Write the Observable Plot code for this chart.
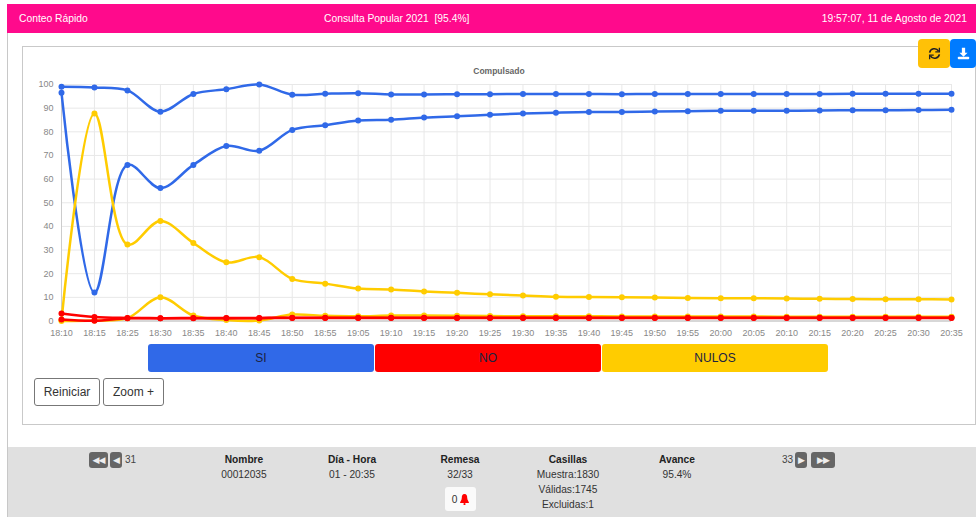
<!DOCTYPE html>
<html><head><meta charset="utf-8">
<script src="https://cdn.jsdelivr.net/npm/d3@7"></script>
<script src="https://cdn.jsdelivr.net/npm/@observablehq/plot@0.6"></script>
<style>
html,body{margin:0;padding:0;background:#fff;overflow:hidden}
#page{position:relative;width:976px;height:517px;font-family:"Liberation Sans",Arial,sans-serif;overflow:hidden}
.abs{position:absolute;box-sizing:border-box}
#head{left:7px;top:4px;width:969px;height:29px;background:#ff0a8c;color:#fff;font-size:10.3px;line-height:30px}
#head span{position:absolute;top:0;white-space:nowrap}
#wall{left:7px;top:33px;width:1px;height:484px;background:#c8c8c8}
#panel{left:22px;top:46px;width:954px;height:379px;border:1px solid #c9c9c9}
#chart{left:0;top:60px}
#ttl{left:22px;width:954px;top:66px;text-align:center;font-size:8.5px;font-weight:bold;color:#666}
.leg{top:344px;height:28px;border-radius:3px;text-align:center;line-height:28px;font-size:12px;color:#1c2340}
.btn{top:378px;height:28px;border:1px solid #777;border-radius:3px;background:#fff;color:#333;font-size:12px;line-height:26px;text-align:center}
.ic{top:39px;height:29px;border-radius:4px;display:flex;align-items:center;justify-content:center}
#foot{left:8px;top:447px;width:968px;height:70px;background:#e0e0e0}
.col{width:100px;text-align:center;font-size:10.2px;color:#333;line-height:15px;top:452px}
.col b{color:#222}
.nb{top:452px;height:16px;background:#666;border-radius:3px;color:#eee;font-size:9px;line-height:16px;text-align:center;letter-spacing:-1px;font-family:"DejaVu Sans",sans-serif}
.n{top:454px;font-size:10px;color:#444}
</style></head><body>
<div id="page">
<div class="abs" id="wall"></div>
<div class="abs" id="head"><span style="left:12px">Conteo Rápido</span><span style="left:317px">Consulta Popular 2021&nbsp; [95.4%]</span><span style="right:9px">19:57:07, 11 de Agosto de 2021</span></div>
<div class="abs" id="panel"></div>
<div class="abs" id="chart"></div>
<div class="abs" id="ttl">Compulsado</div>
<div class="abs leg" style="left:148px;width:226px;background:#3069e8">SI</div>
<div class="abs leg" style="left:375px;width:226px;background:#ff0000">NO</div>
<div class="abs leg" style="left:602px;width:226px;background:#ffcc00">NULOS</div>
<div class="abs btn" style="left:34px;width:66px">Reiniciar</div>
<div class="abs btn" style="left:103px;width:61px">Zoom +</div>
<div class="abs ic" style="left:918px;width:32px;background:#ffc107"><svg width="13" height="13" viewBox="0 0 16 16" fill="none" stroke="#222" stroke-width="2"><path d="M2 7a6 6 0 0 1 11-2"/><path d="M14 9a6 6 0 0 1-11 2"/><path d="M14 1v5h-5M2 15v-5h5" stroke-width="1.6"/></svg></div>
<div class="abs ic" style="left:950px;width:26px;background:#007bff"><svg width="13" height="13" viewBox="0 0 16 16" fill="#fff"><path d="M6 1h4v6h3l-5 5-5-5h3z"/><rect x="1" y="12" width="14" height="3" rx="1"/></svg></div>
<div class="abs" id="foot"></div>
<div class="abs nb" style="left:89px;width:19px">◀◀</div>
<div class="abs nb" style="left:110px;width:12px">◀</div>
<div class="abs n" style="left:125px">31</div>
<div class="abs col" style="left:194px"><b>Nombre</b><br>00012035</div>
<div class="abs col" style="left:302px"><b>Día - Hora</b><br>01 - 20:35</div>
<div class="abs col" style="left:410px"><b>Remesa</b><br>32/33</div>
<div class="abs col" style="left:518px"><b>Casillas</b><br>Muestra:1830<br>Válidas:1745<br>Excluidas:1</div>
<div class="abs col" style="left:627px"><b>Avance</b><br>95.4%</div>
<div class="abs" style="left:445px;top:487px;width:31px;height:24px;background:#fafafa;border-radius:3px;display:flex;align-items:center;justify-content:center;font-size:10.2px;color:#333">0&nbsp;<svg width="9" height="11" viewBox="0 0 10 12" fill="#f00"><path d="M5 0c2.500 0 3 2 3 4 0 3 2 4 2 6H0c0-2 2-3 2-6 0-2 .5-4 3-4z"/><circle cx="5" cy="11" r="1.200"/></svg></div>
<div class="abs n" style="left:782px">33</div>
<div class="abs nb" style="left:795px;width:12px">▶</div>
<div class="abs nb" style="left:811px;width:24px">▶▶</div>
</div>
<script>
const times = ["18:10","18:15","18:25","18:30","18:35","18:40","18:45","18:50","18:55","19:05","19:10","19:15","19:20","19:25","19:30","19:35","19:40","19:45","19:50","19:55","20:00","20:05","20:10","20:15","20:20","20:25","20:30","20:35"];
const siA = [99,98.7,97.5,88.5,96,98,100,95.7,96.1,96.3,95.8,95.8,95.9,95.9,96,96,96,95.9,96,96,96,96,96,96,96.1,96.1,96.1,96.1];
const siB = [96.5,12,66,56.2,66,74,72,80.8,82.8,84.8,85.1,86,86.6,87.2,87.7,88.1,88.4,88.4,88.6,88.7,88.9,88.9,88.9,89,89.1,89.1,89.2,89.3];
const nulosA = [0.3,87.7,32.3,42.3,33,24.8,27,17.8,15.8,13.7,13.3,12.5,11.9,11.3,10.8,10.3,10.1,10,9.9,9.7,9.6,9.6,9.5,9.4,9.3,9.2,9.2,9.1];
const nulosB = [0,0.2,1.2,10,2.3,0.4,0.2,2.7,2.2,2,2.3,2.3,2.2,2.1,2,2,2,1.9,1.9,1.9,1.9,1.9,1.8,1.8,1.8,1.8,1.8,1.8];
const noA = [3.2,1.7,1.3,1.2,1.3,1.3,1.3,1.4,1.4,1.4,1.4,1.4,1.4,1.4,1.4,1.4,1.4,1.4,1.4,1.4,1.4,1.4,1.4,1.4,1.4,1.4,1.4,1.4];
const noB = [0.6,0.1,1.2,1.2,1.2,1.2,1.2,1.3,1.3,1.3,1.3,1.3,1.3,1.3,1.3,1.3,1.3,1.3,1.3,1.3,1.3,1.3,1.3,1.3,1.3,1.3,1.3,1.3];
const yTicks = [0,10,20,30,40,50,60,70,80,90,100];
const series = [[siA,"#3069e8"],[siB,"#3069e8"],[nulosA,"#ffcc00"],[nulosB,"#ffcc00"],[noA,"#ff0000"],[noB,"#ff0000"]];
const marks = [
  Plot.gridY(yTicks,{stroke:"#e8e8e8",strokeOpacity:1}),
  Plot.gridX(times,{stroke:"#e8e8e8",strokeOpacity:1}),
  Plot.ruleY([0],{stroke:"#bbb"}),
  Plot.ruleX([times[0]],{stroke:"#ccc"}),
  Plot.axisY({ticks:yTicks,tickSize:0,tickPadding:8,fontSize:9,color:"#888",label:null,anchor:"left"}),
  Plot.axisX({ticks:times,tickSize:0,tickPadding:9,fontSize:9,color:"#888",label:null,anchor:"bottom"})
];
for (const [vals,color] of series) {
  const rows = times.map((t,i)=>({t,v:vals[i]}));
  marks.push(Plot.line(rows,{x:"t",y:"v",stroke:color,strokeWidth:2.5,curve:"catmull-rom"}));
  marks.push(Plot.dot(rows,{x:"t",y:"v",fill:color,r:3}));
}
const svg = Plot.plot({
  width:976,height:285,marginLeft:61,marginRight:25,marginTop:24,marginBottom:24.5,
  style:{background:"transparent",fontFamily:"'Liberation Sans',Arial,sans-serif"},
  x:{type:"point",domain:times,padding:0,round:false,label:null},
  y:{domain:[0,100],label:null},
  marks
});
document.getElementById("chart").appendChild(svg);
</script>
</body></html>
